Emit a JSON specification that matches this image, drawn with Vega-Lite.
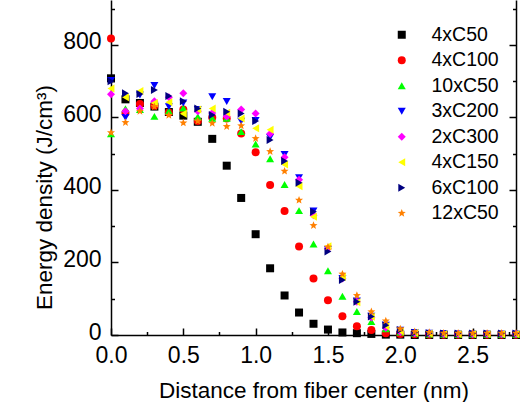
{
"$schema": "https://vega.github.io/schema/vega-lite/v6.json",
"width": 405, "height": 335,
"autosize": {"type": "none"},
"padding": {"left": 111, "top": 0, "right": 4, "bottom": 67},
"config": {"font": "Liberation Sans", "view": {"stroke": null},
 "axis": {"grid": false, "domainColor": "#000", "tickColor": "#000", "labelColor": "#000", "titleColor": "#000", "labelFont": "Liberation Sans", "titleFont": "Liberation Sans", "labelFontSize": 23, "titleFontSize": 22.5, "titleFontWeight": "normal", "domainWidth": 1.5, "tickWidth": 1.5, "labelFlush": false},
 "legend": {"labelFont": "Liberation Sans"}},
"datasets": {"pts": [
{"s":"4xC50","d":0,"e":708},{"s":"4xC50","d":0.1,"e":650},{"s":"4xC50","d":0.2,"e":640},{"s":"4xC50","d":0.3,"e":630},{"s":"4xC50","d":0.4,"e":615},{"s":"4xC50","d":0.5,"e":605},{"s":"4xC50","d":0.6,"e":588},{"s":"4xC50","d":0.7,"e":541},{"s":"4xC50","d":0.8,"e":467},{"s":"4xC50","d":0.9,"e":378},{"s":"4xC50","d":1,"e":278},{"s":"4xC50","d":1.1,"e":184},{"s":"4xC50","d":1.2,"e":109},{"s":"4xC50","d":1.3,"e":62},{"s":"4xC50","d":1.4,"e":31},{"s":"4xC50","d":1.5,"e":15},{"s":"4xC50","d":1.6,"e":7},{"s":"4xC50","d":1.7,"e":5},{"s":"4xC50","d":1.8,"e":3},{"s":"4xC50","d":1.9,"e":1},{"s":"4xC50","d":2,"e":1},{"s":"4xC50","d":2.1,"e":0},{"s":"4xC50","d":2.2,"e":0},{"s":"4xC50","d":2.3,"e":0},{"s":"4xC50","d":2.4,"e":0},{"s":"4xC50","d":2.5,"e":0},{"s":"4xC50","d":2.6,"e":0},{"s":"4xC50","d":2.7,"e":0},{"s":"4xC50","d":2.8,"e":0},
{"s":"4xC100","d":0,"e":818},{"s":"4xC100","d":0.1,"e":612},{"s":"4xC100","d":0.2,"e":637},{"s":"4xC100","d":0.3,"e":632},{"s":"4xC100","d":0.4,"e":614},{"s":"4xC100","d":0.5,"e":622},{"s":"4xC100","d":0.6,"e":590},{"s":"4xC100","d":0.7,"e":600},{"s":"4xC100","d":0.8,"e":597},{"s":"4xC100","d":0.9,"e":556},{"s":"4xC100","d":1,"e":504},{"s":"4xC100","d":1.1,"e":414},{"s":"4xC100","d":1.2,"e":342},{"s":"4xC100","d":1.3,"e":244},{"s":"4xC100","d":1.4,"e":156},{"s":"4xC100","d":1.5,"e":96},{"s":"4xC100","d":1.6,"e":52},{"s":"4xC100","d":1.7,"e":24},{"s":"4xC100","d":1.8,"e":14},{"s":"4xC100","d":1.9,"e":5},{"s":"4xC100","d":2,"e":3},{"s":"4xC100","d":2.1,"e":2},{"s":"4xC100","d":2.2,"e":1},{"s":"4xC100","d":2.3,"e":1},{"s":"4xC100","d":2.4,"e":1},{"s":"4xC100","d":2.5,"e":1},{"s":"4xC100","d":2.6,"e":1},{"s":"4xC100","d":2.7,"e":1},{"s":"4xC100","d":2.8,"e":1},
{"s":"10xC50","d":0,"e":555},{"s":"10xC50","d":0.1,"e":624},{"s":"10xC50","d":0.2,"e":622},{"s":"10xC50","d":0.3,"e":603},{"s":"10xC50","d":0.4,"e":618},{"s":"10xC50","d":0.5,"e":626},{"s":"10xC50","d":0.6,"e":602},{"s":"10xC50","d":0.7,"e":598},{"s":"10xC50","d":0.8,"e":598},{"s":"10xC50","d":0.9,"e":561},{"s":"10xC50","d":1,"e":527},{"s":"10xC50","d":1.1,"e":486},{"s":"10xC50","d":1.2,"e":415},{"s":"10xC50","d":1.3,"e":343},{"s":"10xC50","d":1.4,"e":251},{"s":"10xC50","d":1.5,"e":177},{"s":"10xC50","d":1.6,"e":107},{"s":"10xC50","d":1.7,"e":65},{"s":"10xC50","d":1.8,"e":37},{"s":"10xC50","d":1.9,"e":17},{"s":"10xC50","d":2,"e":8},{"s":"10xC50","d":2.1,"e":5},{"s":"10xC50","d":2.2,"e":3},{"s":"10xC50","d":2.3,"e":2},{"s":"10xC50","d":2.4,"e":2},{"s":"10xC50","d":2.5,"e":2},{"s":"10xC50","d":2.6,"e":2},{"s":"10xC50","d":2.7,"e":2},{"s":"10xC50","d":2.8,"e":2},
{"s":"3xC200","d":0,"e":702},{"s":"3xC200","d":0.1,"e":600},{"s":"3xC200","d":0.2,"e":662},{"s":"3xC200","d":0.3,"e":688},{"s":"3xC200","d":0.4,"e":630},{"s":"3xC200","d":0.5,"e":640},{"s":"3xC200","d":0.6,"e":622},{"s":"3xC200","d":0.7,"e":657},{"s":"3xC200","d":0.8,"e":644},{"s":"3xC200","d":0.9,"e":590},{"s":"3xC200","d":1,"e":592},{"s":"3xC200","d":1.1,"e":545},{"s":"3xC200","d":1.2,"e":498},{"s":"3xC200","d":1.3,"e":434},{"s":"3xC200","d":1.4,"e":342},{"s":"3xC200","d":1.5,"e":236},{"s":"3xC200","d":1.6,"e":156},{"s":"3xC200","d":1.7,"e":94},{"s":"3xC200","d":1.8,"e":52},{"s":"3xC200","d":1.9,"e":27},{"s":"3xC200","d":2,"e":13},{"s":"3xC200","d":2.1,"e":7},{"s":"3xC200","d":2.2,"e":5},{"s":"3xC200","d":2.3,"e":4},{"s":"3xC200","d":2.4,"e":3},{"s":"3xC200","d":2.5,"e":3},{"s":"3xC200","d":2.6,"e":3},{"s":"3xC200","d":2.7,"e":3},{"s":"3xC200","d":2.8,"e":3},
{"s":"2xC300","d":0,"e":664},{"s":"2xC300","d":0.1,"e":617},{"s":"2xC300","d":0.2,"e":625},{"s":"2xC300","d":0.3,"e":645},{"s":"2xC300","d":0.4,"e":656},{"s":"2xC300","d":0.5,"e":667},{"s":"2xC300","d":0.6,"e":617},{"s":"2xC300","d":0.7,"e":612},{"s":"2xC300","d":0.8,"e":603},{"s":"2xC300","d":0.9,"e":622},{"s":"2xC300","d":1,"e":611},{"s":"2xC300","d":1.1,"e":555},{"s":"2xC300","d":1.2,"e":490},{"s":"2xC300","d":1.3,"e":428},{"s":"2xC300","d":1.4,"e":330},{"s":"2xC300","d":1.5,"e":238},{"s":"2xC300","d":1.6,"e":156},{"s":"2xC300","d":1.7,"e":92},{"s":"2xC300","d":1.8,"e":48},{"s":"2xC300","d":1.9,"e":20},{"s":"2xC300","d":2,"e":8},{"s":"2xC300","d":2.1,"e":5},{"s":"2xC300","d":2.2,"e":4},{"s":"2xC300","d":2.3,"e":3},{"s":"2xC300","d":2.4,"e":3},{"s":"2xC300","d":2.5,"e":3},{"s":"2xC300","d":2.6,"e":3},{"s":"2xC300","d":2.7,"e":3},{"s":"2xC300","d":2.8,"e":3},
{"s":"4xC150","d":0,"e":680},{"s":"4xC150","d":0.1,"e":656},{"s":"4xC150","d":0.2,"e":673},{"s":"4xC150","d":0.3,"e":640},{"s":"4xC150","d":0.4,"e":642},{"s":"4xC150","d":0.5,"e":610},{"s":"4xC150","d":0.6,"e":622},{"s":"4xC150","d":0.7,"e":625},{"s":"4xC150","d":0.8,"e":613},{"s":"4xC150","d":0.9,"e":597},{"s":"4xC150","d":1,"e":570},{"s":"4xC150","d":1.1,"e":566},{"s":"4xC150","d":1.2,"e":470},{"s":"4xC150","d":1.3,"e":410},{"s":"4xC150","d":1.4,"e":326},{"s":"4xC150","d":1.5,"e":245},{"s":"4xC150","d":1.6,"e":160},{"s":"4xC150","d":1.7,"e":90},{"s":"4xC150","d":1.8,"e":50},{"s":"4xC150","d":1.9,"e":24},{"s":"4xC150","d":2,"e":10},{"s":"4xC150","d":2.1,"e":6},{"s":"4xC150","d":2.2,"e":4},{"s":"4xC150","d":2.3,"e":3},{"s":"4xC150","d":2.4,"e":3},{"s":"4xC150","d":2.5,"e":3},{"s":"4xC150","d":2.6,"e":3},{"s":"4xC150","d":2.7,"e":3},{"s":"4xC150","d":2.8,"e":3},
{"s":"6xC100","d":0,"e":700},{"s":"6xC100","d":0.1,"e":667},{"s":"6xC100","d":0.2,"e":665},{"s":"6xC100","d":0.3,"e":676},{"s":"6xC100","d":0.4,"e":659},{"s":"6xC100","d":0.5,"e":645},{"s":"6xC100","d":0.6,"e":625},{"s":"6xC100","d":0.7,"e":607},{"s":"6xC100","d":0.8,"e":616},{"s":"6xC100","d":0.9,"e":611},{"s":"6xC100","d":1,"e":590},{"s":"6xC100","d":1.1,"e":538},{"s":"6xC100","d":1.2,"e":480},{"s":"6xC100","d":1.3,"e":420},{"s":"6xC100","d":1.4,"e":340},{"s":"6xC100","d":1.5,"e":230},{"s":"6xC100","d":1.6,"e":152},{"s":"6xC100","d":1.7,"e":92},{"s":"6xC100","d":1.8,"e":51},{"s":"6xC100","d":1.9,"e":27},{"s":"6xC100","d":2,"e":14},{"s":"6xC100","d":2.1,"e":6},{"s":"6xC100","d":2.2,"e":5},{"s":"6xC100","d":2.3,"e":4},{"s":"6xC100","d":2.4,"e":4},{"s":"6xC100","d":2.5,"e":4},{"s":"6xC100","d":2.6,"e":4},{"s":"6xC100","d":2.7,"e":4},{"s":"6xC100","d":2.8,"e":4},
{"s":"12xC50","d":0,"e":558},{"s":"12xC50","d":0.1,"e":586},{"s":"12xC50","d":0.2,"e":617},{"s":"12xC50","d":0.3,"e":630},{"s":"12xC50","d":0.4,"e":606},{"s":"12xC50","d":0.5,"e":585},{"s":"12xC50","d":0.6,"e":590},{"s":"12xC50","d":0.7,"e":584},{"s":"12xC50","d":0.8,"e":575},{"s":"12xC50","d":0.9,"e":577},{"s":"12xC50","d":1,"e":542},{"s":"12xC50","d":1.1,"e":506},{"s":"12xC50","d":1.2,"e":452},{"s":"12xC50","d":1.3,"e":372},{"s":"12xC50","d":1.4,"e":302},{"s":"12xC50","d":1.5,"e":243},{"s":"12xC50","d":1.6,"e":168},{"s":"12xC50","d":1.7,"e":109},{"s":"12xC50","d":1.8,"e":64},{"s":"12xC50","d":1.9,"e":39},{"s":"12xC50","d":2,"e":17},{"s":"12xC50","d":2.1,"e":9},{"s":"12xC50","d":2.2,"e":7},{"s":"12xC50","d":2.3,"e":5},{"s":"12xC50","d":2.4,"e":5},{"s":"12xC50","d":2.5,"e":5},{"s":"12xC50","d":2.6,"e":5},{"s":"12xC50","d":2.7,"e":5},{"s":"12xC50","d":2.8,"e":5}
]},
"data": {"name": "pts"},
"layer": [
 {"mark": {"type": "point", "opacity": 0},
  "encoding": {
   "x": {"field": "d", "type": "quantitative", "scale": {"domain": [0, 2.8], "nice": false, "zero": false},
    "axis": {"orient": "bottom", "values": [0.25, 0.75, 1.25, 1.75, 2.25, 2.75], "labels": false, "domain": false, "tickSize": -3.5, "title": null}},
   "y": {"field": "e", "type": "quantitative", "scale": {"domain": [0, 924], "nice": false},
    "axis": {"orient": "left", "values": [100, 300, 500, 700, 900], "labels": false, "domain": false, "tickSize": -3.5, "title": null}}}},
 {"mark": {"type": "point", "opacity": 0},
  "encoding": {
   "x": {"field": "d", "type": "quantitative", "axis": null},
   "y": {"field": "e", "type": "quantitative",
    "axis": {"orient": "right", "values": [0, 200, 400, 600, 800], "labels": false, "domain": true, "tickSize": -7, "title": null}}}},
 {"mark": {"type": "point", "opacity": 0},
  "encoding": {
   "x": {"field": "d", "type": "quantitative", "axis": null},
   "y": {"field": "e", "type": "quantitative",
    "axis": {"orient": "right", "values": [100, 300, 500, 700, 900], "labels": false, "domain": false, "tickSize": -3.5, "title": null}}}},
 {"mark": {"type": "point", "filled": true, "size": 64, "opacity": 1, "strokeWidth": 0},
  "encoding": {
   "x": {"field": "d", "type": "quantitative",
    "axis": {"orient": "bottom", "values": [0, 0.5, 1, 1.5, 2, 2.5], "format": ".1f", "tickSize": -7, "labelPadding": 16, "title": "Distance from fiber center (nm)", "titleBaseline": "top", "titleY": 44}},
   "y": {"field": "e", "type": "quantitative",
    "axis": {"orient": "left", "values": [0, 200, 400, 600, 800], "tickSize": -7, "labelPadding": 17, "labelOffset": -3, "title": "Energy density (J/cm³)", "titleX": -55, "titleY": 197}},
   "color": {"field": "s", "type": "nominal",
    "scale": {"domain": ["4xC50", "4xC100", "10xC50", "3xC200", "2xC300", "4xC150", "6xC100", "12xC50"],
     "range": ["#000000", "#ff0000", "#00ff00", "#0000ff", "#ff00ff", "#ffff00", "#000080", "#ff8000"]},
    "legend": {"orient": "none", "legendX": 281, "legendY": 25, "title": null, "labelFontSize": 19.5, "symbolSize": 64, "rowPadding": 4.5, "labelOffset": 20, "padding": 0, "symbolStrokeWidth": 0}},
   "shape": {"field": "s", "type": "nominal",
    "scale": {"domain": ["4xC50", "4xC100", "10xC50", "3xC200", "2xC300", "4xC150", "6xC100", "12xC50"],
     "range": ["square", "circle", "triangle-up", "triangle-down", "diamond", "triangle-left", "triangle-right", "M0,-1.05L0.27,-0.37L1,-0.33L0.43,0.14L0.62,0.85L0,0.45L-0.62,0.85L-0.43,0.14L-1,-0.33L-0.27,-0.37Z"]},
    "legend": {"orient": "none", "legendX": 281, "legendY": 25, "title": null, "labelFontSize": 19.5, "symbolSize": 64, "rowPadding": 4.5, "labelOffset": 20, "padding": 0, "symbolStrokeWidth": 0}}}}
],
"resolve": {"axis": {"x": "independent", "y": "independent"}}
}
